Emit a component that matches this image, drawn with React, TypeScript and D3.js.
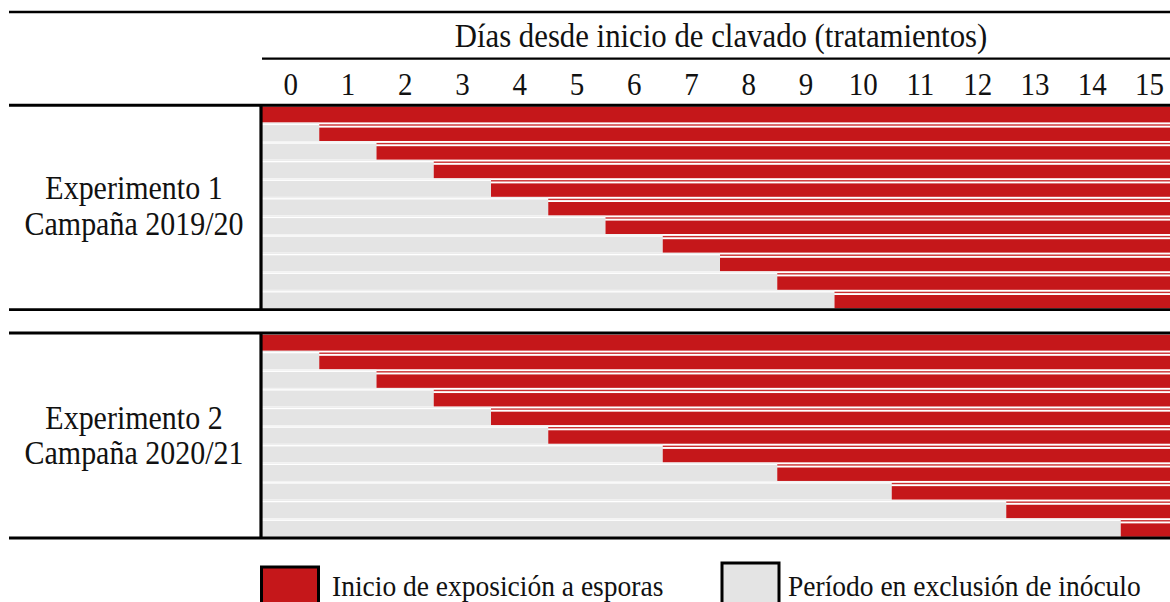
import React from "react";
import * as d3 from "d3";

const days: number[] = d3.range(0, 16);
const dayLabels: string[] = days.map((d) => String(d));
const exp1Starts: number[] = [0, 1, 2, 3, 4, 5, 6, 7, 8, 9, 10];
const exp2Starts: number[] = [0, 1, 2, 3, 4, 5, 7, 9, 11, 13, 15];
const exp1Label: string[] = ["Experimento 1", "Campaña 2019/20"];
const exp2Label: string[] = ["Experimento 2", "Campaña 2020/21"];
const headerTitle = "Días desde inicio de clavado (tratamientos)";
const legendItems: string[] = ["Inicio de exposición a esporas", "Período en exclusión de inóculo"];

const W = 1170;
const H = 602;
const RED = "#c5171a";
const GRAY = "#e4e4e4";
const GRAY_LINE = "#ececec";
const FONT = "'Liberation Serif', 'Times New Roman', serif";

const x = d3.scaleLinear().domain([0, 16]).range([262, 1178]);

function T({ x, y, size, anchor = "middle", sy = 1.09, children }: { x: number; y: number; size: number; anchor?: string; sy?: number; children: React.ReactNode }) {
  return (
    <text transform={`translate(${x},${y}) scale(1,${sy})`} textAnchor={anchor} fontFamily={FONT} fontSize={size} fill="#111">
      {children}
    </text>
  );
}

function Block({ starts, top, bottom, labels, labelY }: { starts: number[]; top: number; bottom: number; labels: string[]; labelY: number[] }) {
  const y = d3.scaleBand<number>().domain(d3.range(starts.length)).range([top, bottom]).paddingInner(0);
  const bw = y.bandwidth();
  return (
    <g>
      {starts.map((s, i) => {
        const b = y(i) as number;
        const x0 = x(0);
        const xs = x(s);
        const xe = x(16);
        return (
          <g key={i}>
            {i > 0 && s > 0 && (
              <rect x={x0} y={b + 0.4} width={xs - x0} height={1} fill={GRAY_LINE} />
            )}
            {s > 0 && <rect x={x0} y={b + 2.7} width={xs - x0} height={bw - 2.7} fill={GRAY} />}
            {i > 0 && <rect x={xs} y={b + 1.9} width={xe - xs} height={1.4} fill={RED} opacity={0.9} />}
            <rect x={xs} y={b + (i > 0 ? 5.2 : 2.7)} width={xe - xs} height={bw - (i > 0 ? 5.2 : 2.7)} fill={RED} />
          </g>
        );
      })}
      {labels.map((t, k) => (
        <T key={k} x={134} y={labelY[k]} size={30}>
          {t}
        </T>
      ))}
    </g>
  );
}

export default function App() {
  return (
    <div style={{ position: "absolute", left: 0, top: 0 }}>
      <svg width={W} height={H} style={{ display: "block", background: "#fff" }}>
        {/* header */}
        <line x1={9} x2={W} y1={12} y2={12} stroke="#000" strokeWidth={2.6} />
        <T x={721} y={46.5} size={30.8}>
          {headerTitle}
        </T>
        <line x1={262} x2={W} y1={58.7} y2={58.7} stroke="#000" strokeWidth={2.2} />
        {days.map((d, i) => (
          <T key={d} x={x(d + 0.5)} y={95} size={29}>
            {dayLabels[i]}
          </T>
        ))}

        <Block starts={exp1Starts} top={103.8} bottom={308.4} labels={exp1Label} labelY={[199, 234.5]} />
        <Block starts={exp2Starts} top={332} bottom={536.8} labels={exp2Label} labelY={[429, 464]} />

        {/* rules */}
        <line x1={9} x2={W} y1={105.3} y2={105.3} stroke="#000" strokeWidth={3} />
        <line x1={9} x2={W} y1={309.7} y2={309.7} stroke="#000" strokeWidth={2.8} />
        <line x1={9} x2={W} y1={333} y2={333} stroke="#000" strokeWidth={2.8} />
        <line x1={9} x2={W} y1={538} y2={538} stroke="#000" strokeWidth={2.8} />
        <line x1={261} x2={261} y1={104} y2={311} stroke="#000" strokeWidth={3.2} />
        <line x1={261} x2={261} y1={332} y2={539} stroke="#000" strokeWidth={3.2} />

        {/* legend */}
        <rect x={261.5} y={567} width={57} height={45} fill={RED} stroke="#000" strokeWidth={3} />
        <T x={332} y={596} size={27.5} anchor="start" sy={1.05}>
          {legendItems[0]}
        </T>
        <rect x={722} y={563} width={57} height={45} fill={GRAY} stroke="#000" strokeWidth={3} />
        <T x={788} y={596} size={27.5} anchor="start" sy={1.05}>
          {legendItems[1]}
        </T>
      </svg>
    </div>
  );
}
